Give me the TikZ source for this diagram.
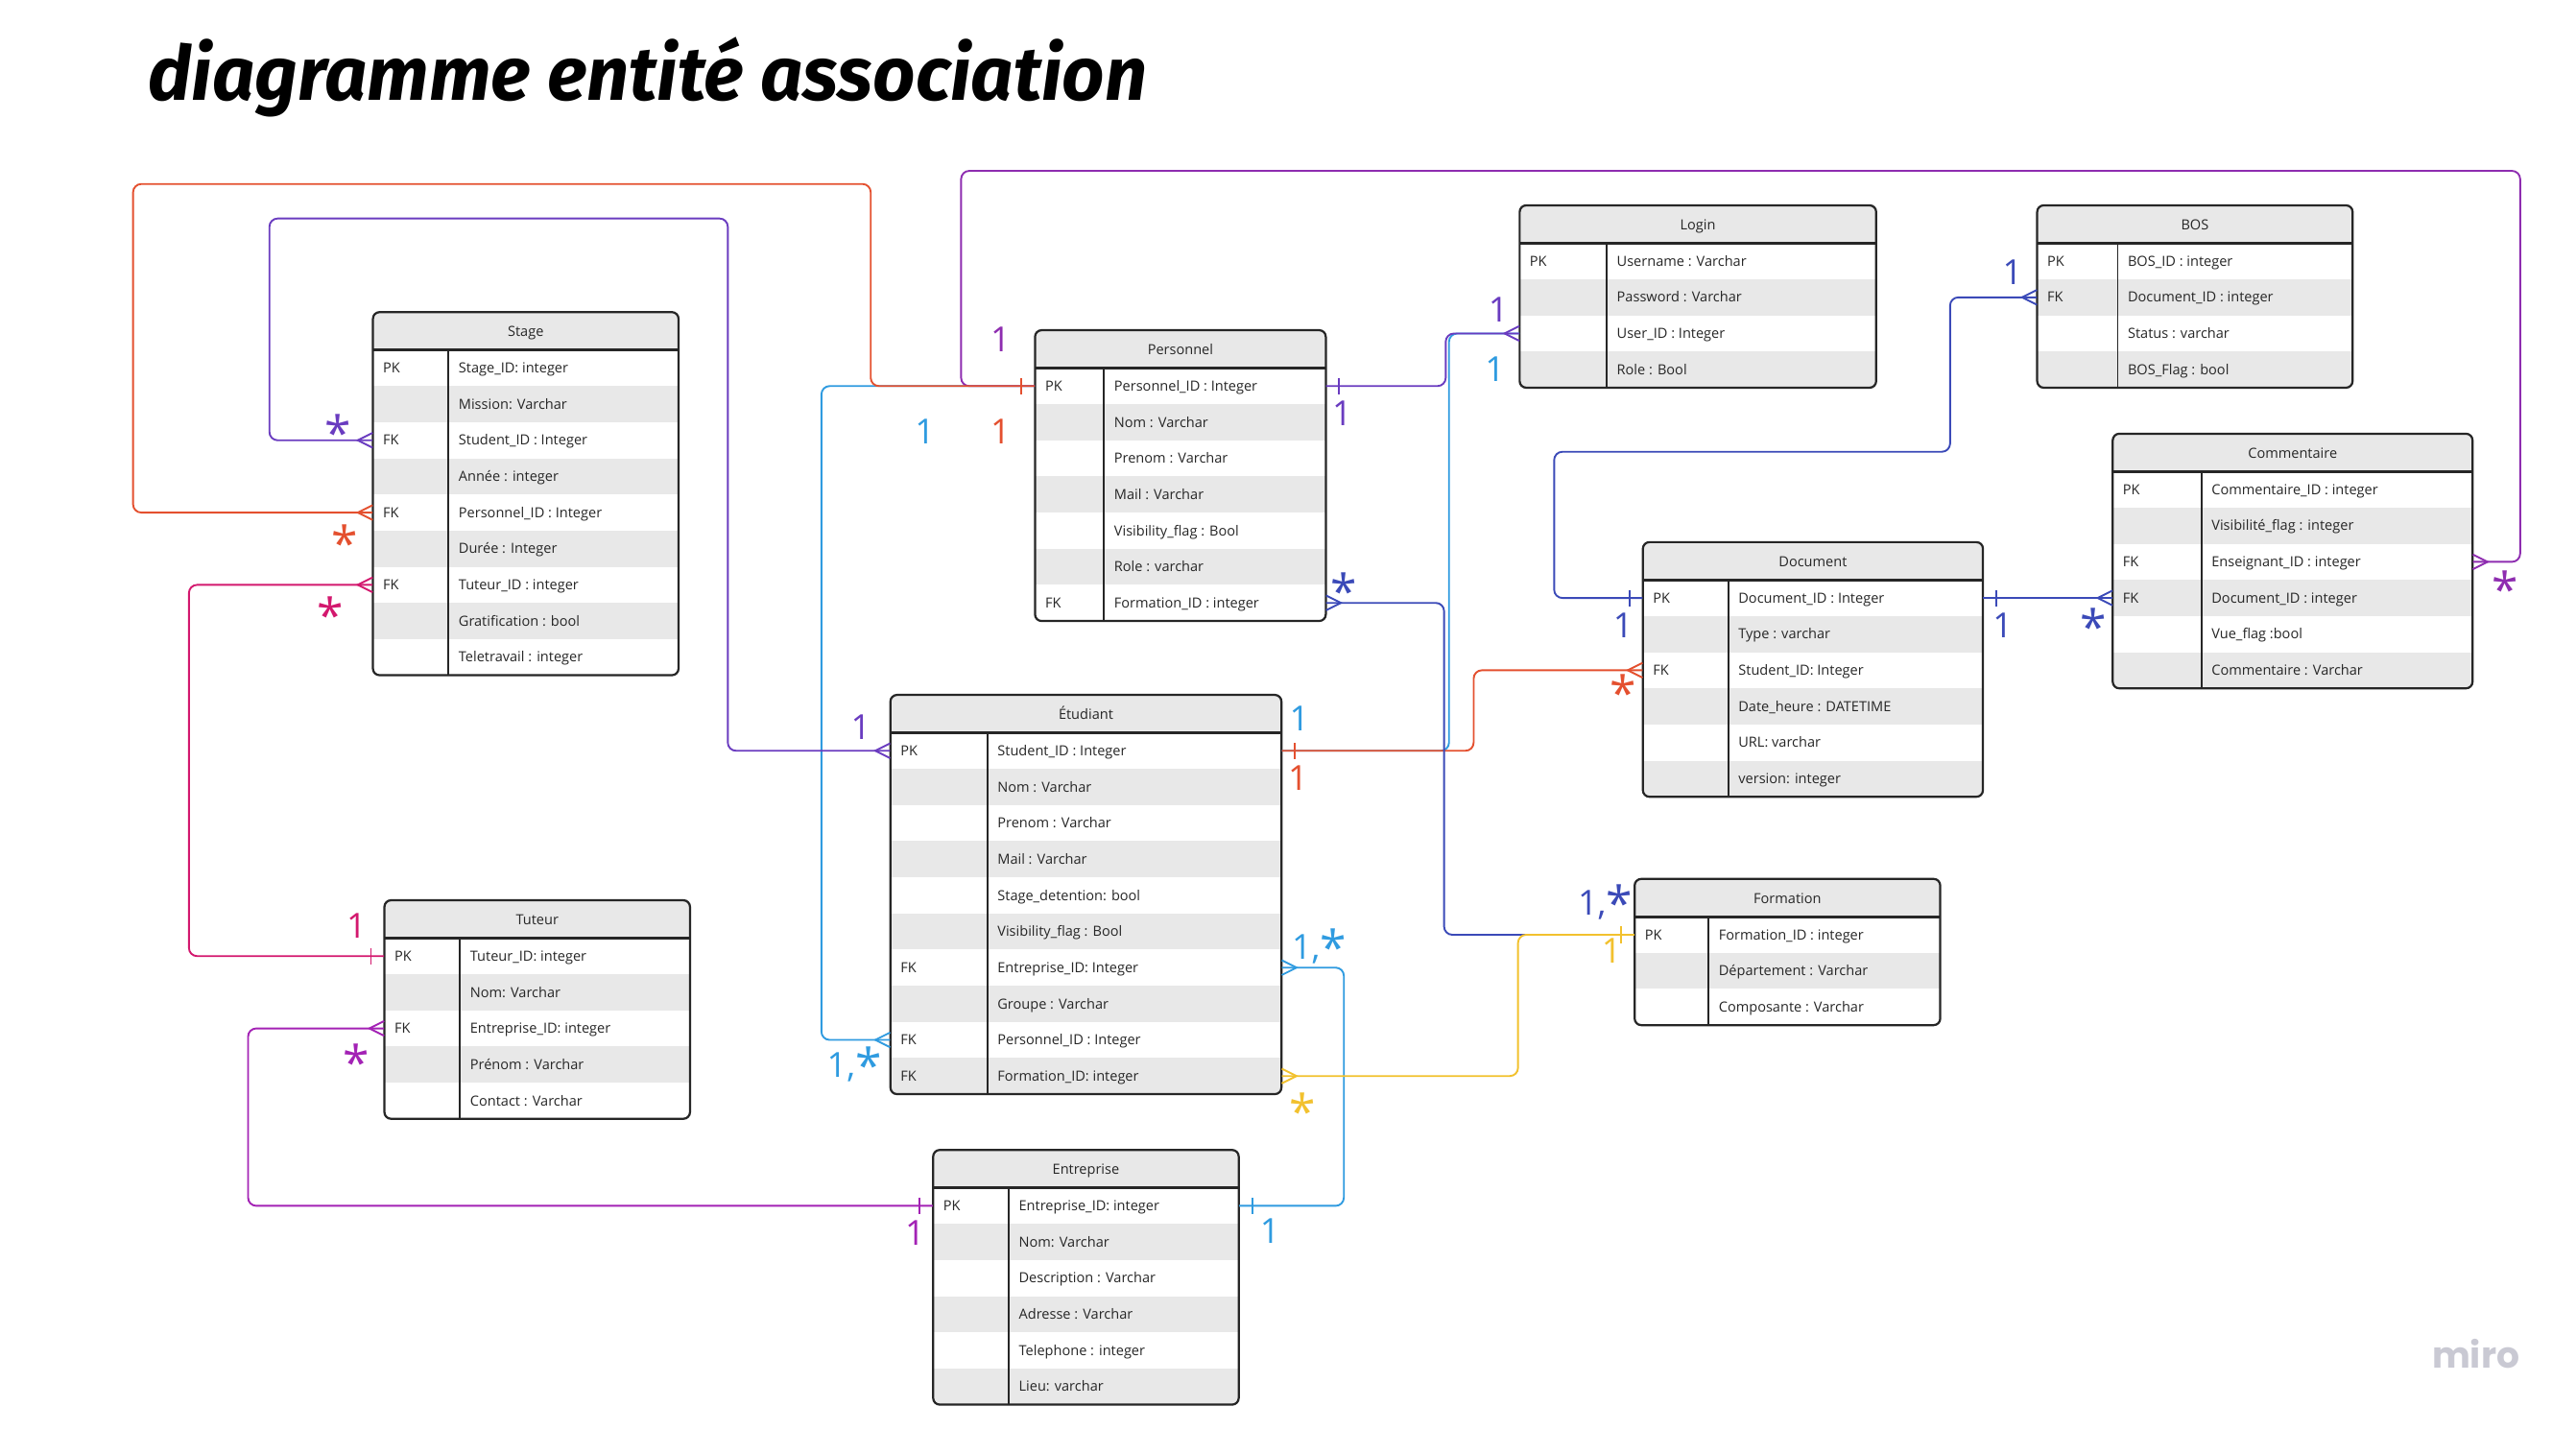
\documentclass[tikz,border=0pt]{standalone}
\usepackage{fontspec}
\usepackage{graphicx}
\setmainfont{Open Sans}
\newfontfamily\handfont{Fira Sans}
\newfontfamily\brandfont{Poppins}

\definecolor{rowgray}{HTML}{E8E8E8}
\definecolor{inkgray}{HTML}{262626}
\definecolor{logogray}{HTML}{C9C9D3}
\definecolor{cRed}{HTML}{E4502F}
\definecolor{cViolet}{HTML}{6A3CC0}
\definecolor{cPlum}{HTML}{8E2DB0}
\definecolor{cSky}{HTML}{2F9BE0}
\definecolor{cIndigo}{HTML}{3B4AB8}
\definecolor{cGold}{HTML}{F2C12E}
\definecolor{cRose}{HTML}{D3186E}
\definecolor{cOrchid}{HTML}{A322B5}

\newcommand{\mstar}{\raisebox{-3.5pt}{\fontsize{29}{29}\selectfont *}}

% #1 name, #2 left, #3 top, #4 width, #5 key column, #6 rows, #7 title, #8 key/field list
\newcommand{\ertable}[8]{%
    \begin{scope}
        \clip[rounded corners=4] (#2,#3) rectangle ++(#4,23+22*#6);
        \fill[rowgray] (#2,#3) rectangle ++(#4,23);
        \foreach \rk/\rf [count=\i] in {#8} {
            \ifodd\i\else
                \fill[rowgray] (#2,#3+1+22*\i) rectangle ++(#4,22);
            \fi
        }
    \end{scope}
    \foreach \rk/\rf [count=\i] in {#8} {
        \node[rowslot, minimum width=#4] (#1-\i) at (#2+#4/2,#3+12+22*\i) {};
        \node[celltext] (#1-k\i) at (#2+6,#3+15+22*\i) {\rk};
        \node[celltext] (#1-f\i) at (#2+#5+6,#3+15+22*\i) {\rf};
    }
    \draw[tablebox] (#2,#3) rectangle ++(#4,23+22*#6);
    \draw[inkgray, line width=1.6] (#2,#3+23) -- ++(#4,0);
    \draw[inkgray, line width=1] (#2+#5,#3+23) -- ++(0,22*#6);
    \node[headtext] (#1) at (#2+#4/2,#3+15) {#7};
}

\begin{document}
\begin{tikzpicture}[x=1pt, y=-1pt,
    tablebox/.style={draw=inkgray, line width=1.3, rounded corners=4},
    rowslot/.style={inner sep=0, minimum height=22},
    celltext/.style={anchor=base west, inner sep=0, text=inkgray, font=\fontsize{8.5}{8.5}\selectfont},
    headtext/.style={anchor=base, inner sep=0, text=inkgray, font=\fontsize{8.5}{8.5}\selectfont},
    link/.style={line width=1.1, rounded corners=5},
    card/.style={anchor=base, inner sep=0, font=\fontsize{21}{21}\selectfont},
    many/.pic={\draw[line width=1.1] (0,-4.5) -- (-9,0) -- (0,4.5);},
    one/.pic={\draw[line width=1.1] (-8,-5) -- (-8,5);}]
    \useasboundingbox (0,0) rectangle (1568,870);
    \fill[white] (0,0) rectangle (1568,870);

    \node[anchor=base west, inner sep=0] (title) at (90,61)
        {\handfont\bfseries\itshape\fontsize{46}{46}\selectfont\resizebox{608pt}{\height}{diagramme entité association}};

    \ertable{stage}{227}{190}{186}{46}{9}{Stage}{PK/Stage\_ID: integer, /Mission: Varchar,
        FK/Student\_ID : Integer, /Année : integer, FK/Personnel\_ID : Integer, /Durée : Integer,
        FK/Tuteur\_ID : integer, /Gratification : bool, /Teletravail : integer}
    \ertable{pers}{630}{201}{177}{42}{7}{Personnel}{PK/Personnel\_ID : Integer, /Nom : Varchar,
        /Prenom : Varchar, /Mail : Varchar, /Visibility\_flag : Bool, /Role : varchar,
        FK/Formation\_ID : integer}
    \ertable{login}{925}{125}{217}{53}{4}{Login}{PK/Username : Varchar, /Password : Varchar,
        /User\_ID : Integer, /Role : Bool}
    \ertable{bos}{1240}{125}{192}{49}{4}{BOS}{PK/BOS\_ID : integer, FK/Document\_ID : integer,
        /Status : varchar, /BOS\_Flag : bool}
    \ertable{comm}{1286}{264}{219}{54}{6}{Commentaire}{PK/Commentaire\_ID : integer,
        /Visibilité\_flag : integer, FK/Enseignant\_ID : integer, FK/Document\_ID : integer,
        /Vue\_flag :bool, /Commentaire : Varchar}
    \ertable{doc}{1000}{330}{207}{52}{6}{Document}{PK/Document\_ID : Integer, /Type : varchar,
        FK/Student\_ID: Integer, /Date\_heure : DATETIME, /URL: varchar, /version: integer}
    \ertable{etu}{542}{423}{238}{59}{10}{Étudiant}{PK/Student\_ID : Integer, /Nom : Varchar,
        /Prenom : Varchar, /Mail : Varchar, /Stage\_detention: bool, /Visibility\_flag : Bool,
        FK/Entreprise\_ID: Integer, /Groupe : Varchar, FK/Personnel\_ID : Integer,
        FK/Formation\_ID: integer}
    \ertable{form}{995}{535}{186}{45}{3}{Formation}{PK/Formation\_ID : integer,
        /Département : Varchar, /Composante : Varchar}
    \ertable{tut}{234}{548}{186}{46}{5}{Tuteur}{PK/Tuteur\_ID: integer, /Nom: Varchar,
        FK/Entreprise\_ID: integer, /Prénom : Varchar, /Contact : Varchar}
    \ertable{entr}{568}{700}{186}{46}{6}{Entreprise}{PK/Entreprise\_ID: integer, /Nom: Varchar,
        /Description : Varchar, /Adresse : Varchar, /Telephone : integer, /Lieu: varchar}

    % relations
    \draw[link, cSky] (etu-9.west) -| (500,235) -- (pers-1.west);
    \draw[link, cSky] (etu-1.east) -| (882,203) -- (login-3.west);
    \draw[link, cSky] (etu-7.east) -| (818,734) -- (entr-1.east);
    \draw[link, cPlum] (comm-3.east) -| (1534,104) -| (585,235) -- (pers-1.west);
    \draw[link, cRed] (stage-5.west) -| (81,112) -| (530,235) -- (pers-1.west);
    \draw[link, cViolet] (stage-3.west) -| (164,133) -| (443,457) -- (etu-1.west);
    \draw[link, cViolet] (pers-1.east) -| (880,203) -- (login-3.west);
    \draw[link, cRed] (etu-1.east) -| (897,408) -- (doc-3.west);
    \draw[link, cIndigo] (pers-7.east) -| (879,569) -- (form-1.west);
    \draw[link, cGold] (etu-10.east) -| (924,569) -- (form-1.west);
    \draw[link, cRose] (stage-7.west) -| (115,582) -- (tut-1.west);
    \draw[link, cOrchid] (tut-3.west) -| (151,734) -- (entr-1.west);
    \draw[link, cIndigo] (doc-1.west) -| (946,275) -| (1187,181) -- (bos-2.west);
    \draw[link, cIndigo] (doc-1.east) -- (comm-4.west);

    % ends
    \pic[cRed] at (stage-5.west) {many};
    \pic[cRed] at (pers-1.west) {one};
    \pic[cViolet] at (stage-3.west) {many};
    \pic[cViolet] at (etu-1.west) {many};
    \pic[cPlum, rotate=180] at (comm-3.east) {many};
    \pic[cSky] at (etu-9.west) {many};
    \pic[cViolet, rotate=180] at (pers-1.east) {one};
    \pic[cViolet] at (login-3.west) {many};
    \pic[cRed, rotate=180] at (etu-1.east) {one};
    \pic[cRed] at (doc-3.west) {many};
    \pic[cIndigo, rotate=180] at (pers-7.east) {many};
    \pic[cGold] at (form-1.west) {one};
    \pic[cGold, rotate=180] at (etu-10.east) {many};
    \pic[cSky, rotate=180] at (etu-7.east) {many};
    \pic[cSky, rotate=180] at (entr-1.east) {one};
    \pic[cRose] at (stage-7.west) {many};
    \pic[cRose] at (tut-1.west) {one};
    \pic[cOrchid] at (tut-3.west) {many};
    \pic[cOrchid] at (entr-1.west) {one};
    \pic[cIndigo] at (doc-1.west) {one};
    \pic[cIndigo] at (bos-2.west) {many};
    \pic[cIndigo, rotate=180] at (doc-1.east) {one};
    \pic[cIndigo] at (comm-4.west) {many};

    % cardinalities
    \foreach \clr/\px/\py/\txt [count=\i] in {cRed/210/338/\mstar, cRed/609/270/1, cRed/790/481/1,
        cRed/988/429/\mstar, cViolet/206/271/\mstar, cViolet/524/450/1, cViolet/817/259/1,
        cViolet/912/196/1, cPlum/609/214/1, cPlum/1525/366/\mstar, cSky/563/270/1,
        {cSky/520/656/1,\mstar}, cSky/791/445/1, cSky/910/232/1, {cSky/803/584/1,\mstar},
        cSky/773/757/1, cIndigo/818/367/\mstar, {cIndigo/977/557/1,\mstar}, cIndigo/1225/173/1,
        cIndigo/988/388/1, cIndigo/1219/388/1, cIndigo/1274/389/\mstar, cGold/793/684/\mstar,
        cGold/981/586/1, cRose/201/382/\mstar, cRose/217/571/1, cOrchid/217/654/\mstar,
        cOrchid/557/758/1}
        \node[card, text=\clr] (card-\i) at (\px,\py) {\txt};

    \node[anchor=base, inner sep=0, text=logogray] (logo) at (1507,833)
        {\brandfont\bfseries\fontsize{22}{22}\selectfont miro};
\end{tikzpicture}
\end{document}
